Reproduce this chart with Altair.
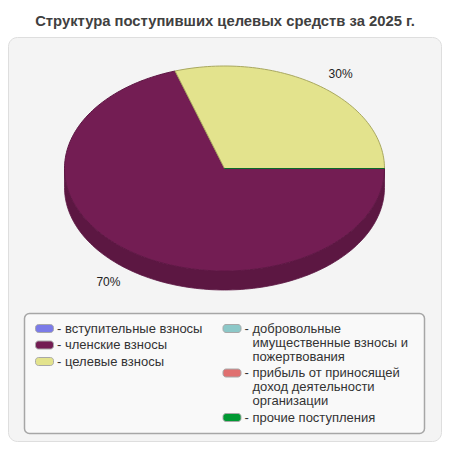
import math
import altair as alt
import pandas as pd

# ---------------- data ----------------
TITLE = "Структура поступивших целевых средств за 2025 г."
categories = [
    "вступительные взносы",
    "членские взносы",
    "целевые взносы",
    "добровольные имущественные взносы и пожертвования",
    "прибыль от приносящей доход деятельности организации",
    "прочие поступления",
]
values = [0, 70, 30, 0, 0, 0]
legend_lines = [
    ["вступительные взносы"],
    ["членские взносы"],
    ["целевые взносы"],
    ["добровольные", "имущественные взносы и", "пожертвования"],
    ["прибыль от приносящей", "доход деятельности", "организации"],
    ["прочие поступления"],
]
legend_column = [0, 0, 0, 1, 1, 1]

# ---------------- styles ----------------
colors = ["#7b7be8", "#731d53", "#e3e38d", "#8cc8c8", "#e07070", "#009933"]
edge_colors = ["#5a5ab0", "#5e1744", "#a9a860", "#6a9a9a", "#b05050", "#0a6a2a"]
side_colors = ["#5e5eb4", "#5c1742", "#b2b26c", "#6c9c9c", "#b05858", "#007a28"]
FONT = "Liberation Sans"

# layout (page pixels; chart origin is at page 8,8)
OFF, W, H = 8, 434, 434
CX, CY, RX, RY, DEPTH = 224.5, 168.5, 160, 102.5, 19
LX = [35.5, 223.0]            # legend symbol left per column
LY0, LINE_H, ITEM_GAP = 328.5, 14.0, 2.5

xs = alt.Scale(domain=[OFF, OFF + W], nice=False, zero=False)
ys = alt.Scale(domain=[OFF, OFF + H], nice=False, zero=False, reverse=True)

total = float(sum(values))

def arc_pts(a0, a1):
    n = max(1, int(math.ceil(abs(a1 - a0) / 1.5)))
    return [a0 + (a1 - a0) * k / n for k in range(n + 1)]

top_rows, side_rows, lab_rows = [], [], []
cum = 0.0
for si, (cat, v) in enumerate(zip(categories, values)):
    a0 = cum / total * 360.0
    a1 = (cum + v) / total * 360.0
    cum += v
    # top face (clockwise from 3 o'clock)
    pts = [(CX, CY)]
    for a in arc_pts(a0, a1):
        r = math.radians(a)
        pts.append((CX + RX * math.cos(r), CY + RY * math.sin(r)))
    pts.append((CX, CY))
    for i, (x, y) in enumerate(pts):
        top_rows.append({"slice": si, "cat": cat, "i": i, "x": x, "y": y})
    # visible side wall (front half, 0..180 deg)
    s0, s1 = max(a0, 0.0), min(a1, 180.0)
    if v > 0 and s1 > s0:
        angs = arc_pts(s0, s1)
        upper = [(CX + RX * math.cos(math.radians(a)), CY + RY * math.sin(math.radians(a))) for a in angs]
        lower = [(x, y + DEPTH) for x, y in reversed(upper)]
        poly = upper + lower + [upper[0]]
        for i, (x, y) in enumerate(poly):
            side_rows.append({"slice": si, "cat": cat, "i": i, "x": x, "y": y})
    # percentage label
    if v > 0:
        m = math.radians((a0 + a1) / 2)
        lx = CX + (RX + 37.5) * math.cos(m)
        ly = CY + (RY + 14) * math.sin(m) + (DEPTH if math.sin(m) > 0 else 0)
        lab_rows.append({"x": lx, "y": ly, "t": f"{round(v / total * 100)}%"})

top_df = pd.DataFrame(top_rows)
side_df = pd.DataFrame(side_rows)
lab_df = pd.DataFrame(lab_rows)

# legend table
sym_rows, txt_rows, dash_rows = [], [], []
ycol = [LY0, LY0]
for cat, lines, col in zip(categories, legend_lines, legend_column):
    y = ycol[col]
    sym_rows.append({"cat": cat, "x": LX[col], "x2": LX[col] + 18, "y": y - 4, "y2": y + 4})
    dash_rows.append({"x": LX[col] + 21.5, "y": y, "t": "-"})
    for j, line in enumerate(lines):
        txt_rows.append({"x": LX[col] + 29.5, "y": y + j * LINE_H, "t": line})
    ycol[col] = y + len(lines) * LINE_H + ITEM_GAP
sym_df = pd.DataFrame(sym_rows)
txt_df = pd.DataFrame(txt_rows + dash_rows)

fill_scale = alt.Scale(domain=categories, range=colors)
one = pd.DataFrame({"k": [0]})

panel = alt.Chart(one).mark_rect(
    fill="#f4f4f4", stroke="#dedede", strokeWidth=1, cornerRadius=9
).encode(x=alt.value(0.5), x2=alt.value(W - 0.5), y=alt.value(37 - OFF + 0.5), y2=alt.value(H - 0.5))

title = alt.Chart(pd.DataFrame({"t": [TITLE]})).mark_text(
    font=FONT, fontSize=14.8, fontWeight="bold", color="#404040", align="center", baseline="middle"
).encode(x=alt.value(225 - OFF), y=alt.value(21.5 - OFF), text="t:N")

side = alt.Chart(side_df).mark_line(strokeWidth=0.8, strokeJoin="round").encode(
    x=alt.X("x:Q", scale=xs, axis=None),
    y=alt.Y("y:Q", scale=ys, axis=None),
    detail="slice:N",
    order="i:Q",
    fill=alt.Fill("cat:N", scale=alt.Scale(domain=categories, range=side_colors), legend=None),
    stroke=alt.Stroke("cat:N", scale=alt.Scale(domain=categories, range=side_colors), legend=None),
)

top = alt.Chart(top_df).mark_line(strokeWidth=1, strokeJoin="round").encode(
    x=alt.X("x:Q", scale=xs, axis=None),
    y=alt.Y("y:Q", scale=ys, axis=None),
    detail="slice:N",
    order="i:Q",
    fill=alt.Fill("cat:N", scale=fill_scale, legend=None),
    stroke=alt.Stroke("cat:N", scale=alt.Scale(domain=categories, range=edge_colors), legend=None),
)

labels = alt.Chart(lab_df).mark_text(
    font=FONT, fontSize=12, color="#222222", align="center", baseline="middle"
).encode(x=alt.X("x:Q", scale=xs, axis=None), y=alt.Y("y:Q", scale=ys, axis=None), text="t:N")

legend_box = alt.Chart(one).mark_rect(
    fill="#f9f9f9", stroke="#a6a6a6", strokeWidth=1.5, cornerRadius=5
).encode(x=alt.value(24.5 - OFF), x2=alt.value(424.5 - OFF), y=alt.value(313.5 - OFF), y2=alt.value(433.5 - OFF))

legend_sym = alt.Chart(sym_df).mark_rect(stroke="#a8a8a8", strokeWidth=1, cornerRadius=3).encode(
    x=alt.X("x:Q", scale=xs, axis=None), x2="x2:Q",
    y=alt.Y("y:Q", scale=ys, axis=None), y2="y2:Q",
    fill=alt.Fill("cat:N", scale=fill_scale, legend=None),
)

legend_txt = alt.Chart(txt_df).mark_text(
    font=FONT, fontSize=13, color="#333333", align="left", baseline="middle"
).encode(x=alt.X("x:Q", scale=xs, axis=None), y=alt.Y("y:Q", scale=ys, axis=None), text="t:N")

chart = alt.layer(
    panel, title, side, top, labels, legend_box, legend_sym, legend_txt
).resolve_scale(fill="independent", stroke="independent").properties(
    width=W, height=H, padding=0, autosize="none", background="white"
).configure_view(stroke=None)

chart.save("out.html", embed_options={"renderer": "svg", "actions": False})
